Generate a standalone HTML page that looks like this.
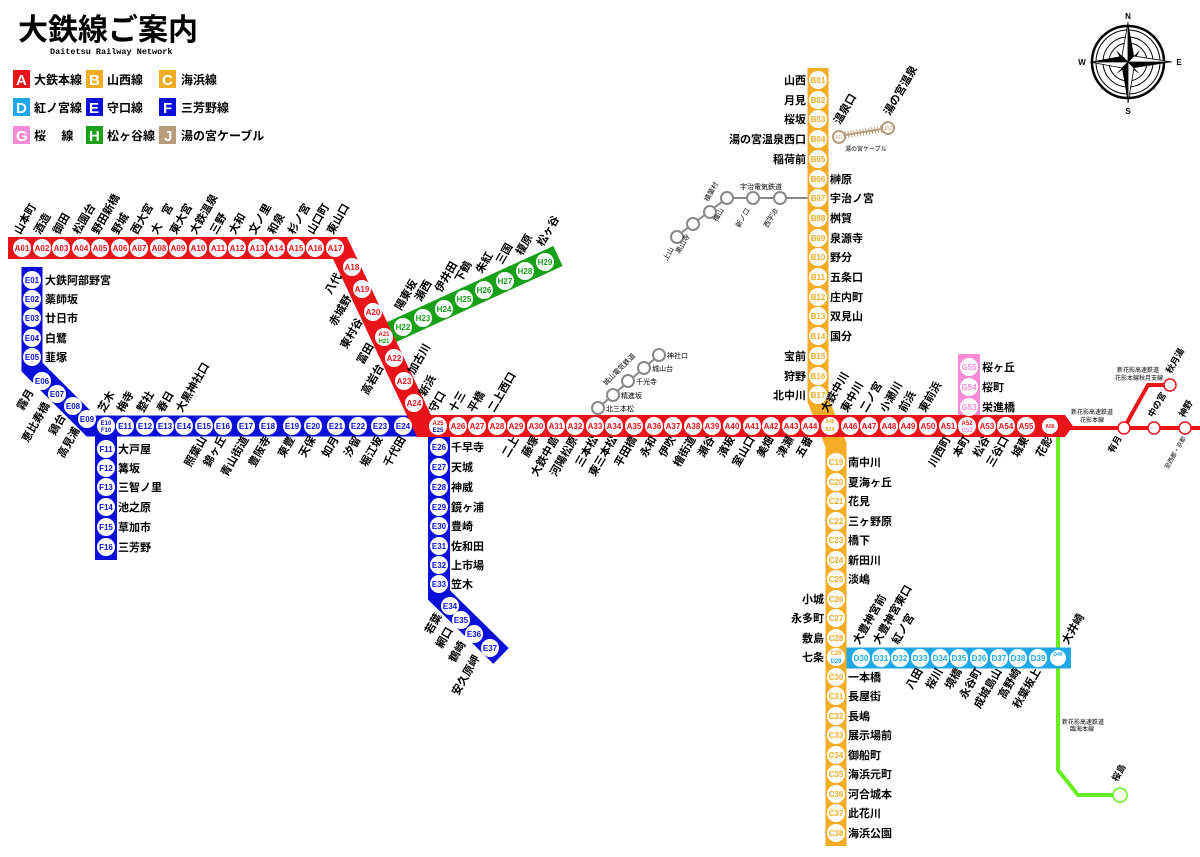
<!DOCTYPE html>
<html><head><meta charset="utf-8">
<style>
html,body{margin:0;padding:0;background:#fff;}
svg{display:block;font-family:"Liberation Sans","Noto Sans CJK JP",sans-serif;}
.c{fill:#fff;}
.t{font-size:8px;font-weight:bold;text-anchor:middle;}
.l{font-size:11px;font-weight:bold;fill:#000;}
.e{text-anchor:end;}
.sm{font-size:7px;fill:#000;}
.r{fill:#e8141a}.b{fill:#0a10d8}.o{fill:#f2ac25}.d{fill:#1ea8e8}.g{fill:#f58ad6}.h{fill:#18a018}
</style></head><body>
<svg width="1200" height="857" viewBox="0 0 1200 857" xmlns="http://www.w3.org/2000/svg">
<!-- title -->
<text x="18" y="40" style="font-size:30px;font-weight:bold">大鉄線ご案内</text>
<text x="50" y="54" style="font-size:8.5px;font-weight:bold;font-family:'Liberation Mono',monospace">Daitetsu Railway Network</text>
<!-- legend -->
<g style="font-size:12px;font-weight:bold">
<rect x="13" y="70" width="17" height="18" fill="#e8141a"/><text x="16" y="85" fill="#fff" style="font-size:15px">A</text><text x="34" y="84">大鉄本線</text>
<rect x="86" y="70" width="17" height="18" fill="#f2ac25"/><text x="89" y="85" fill="#fff" style="font-size:15px">B</text><text x="107" y="84">山西線</text>
<rect x="159" y="70" width="17" height="18" fill="#f2ac25"/><text x="162" y="85" fill="#fff" style="font-size:15px">C</text><text x="181" y="84">海浜線</text>
<rect x="13" y="98" width="17" height="18" fill="#1ea8e8"/><text x="16" y="113" fill="#fff" style="font-size:15px">D</text><text x="34" y="112">紅ノ宮線</text>
<rect x="86" y="98" width="17" height="18" fill="#0a10d8"/><text x="89" y="113" fill="#fff" style="font-size:15px">E</text><text x="107" y="112">守口線</text>
<rect x="159" y="98" width="17" height="18" fill="#0a10d8"/><text x="163" y="113" fill="#fff" style="font-size:15px">F</text><text x="181" y="112">三芳野線</text>
<rect x="13" y="126" width="17" height="18" fill="#f58ad6"/><text x="16" y="141" fill="#fff" style="font-size:15px">G</text><text x="34" y="140">桜　 線</text>
<rect x="86" y="126" width="17" height="18" fill="#18a018"/><text x="89" y="141" fill="#fff" style="font-size:15px">H</text><text x="107" y="140">松ヶ谷線</text>
<rect x="159" y="126" width="17" height="18" fill="#b89b7a"/><text x="164" y="141" fill="#fff" style="font-size:15px">J</text><text x="181" y="140">湯の宮ケーブル</text>
</g>
<!-- compass -->
<g stroke="#000" fill="none">
<line x1="1100" y1="34" x2="1156" y2="90" stroke="#999" stroke-width="0.8"/><line x1="1156" y1="34" x2="1100" y2="90" stroke="#999" stroke-width="0.8"/>
<circle cx="1128" cy="62" r="36" stroke-width="2.5" fill="#fff"/><circle cx="1128" cy="62" r="32" stroke-width="1"/><circle cx="1128" cy="62" r="25" stroke-width="1"/><circle cx="1128" cy="62" r="19" stroke-width="1"/>
</g>
<polygon points="1128,62 1140,50 1133,63 1116,74" fill="#000"/><polygon points="1128,62 1116,50 1123,63 1140,74" fill="#000"/>
<polygon points="1128,22 1134,56 1128,62" fill="#000"/><polygon points="1128,22 1122,56 1128,62" fill="#fff" stroke="#000" stroke-width="0.8"/>
<polygon points="1172,62 1134,68 1128,62" fill="#000"/><polygon points="1172,62 1134,56 1128,62" fill="#fff" stroke="#000" stroke-width="0.8"/>
<polygon points="1128,103 1122,68 1128,62" fill="#000"/><polygon points="1128,103 1134,68 1128,62" fill="#fff" stroke="#000" stroke-width="0.8"/>
<polygon points="1090,62 1122,56 1128,62" fill="#000"/><polygon points="1090,62 1122,68 1128,62" fill="#fff" stroke="#000" stroke-width="0.8"/>
<g style="font-size:8px;font-weight:bold" text-anchor="middle"><text x="1128" y="19">N</text><text x="1128" y="114">S</text><text x="1082" y="65">W</text><text x="1179" y="65">E</text></g>

<!-- grey lines -->
<g stroke="#888" stroke-width="2" fill="none">
<polyline points="808,198 727,198 677,236"/>
<line x1="598" y1="408" x2="659" y2="355"/>
</g>
<g fill="#fff" stroke="#888" stroke-width="2">
<circle cx="780" cy="198" r="6"/><circle cx="753" cy="198" r="6"/><circle cx="727" cy="198" r="6"/><circle cx="710" cy="212" r="6"/><circle cx="693" cy="224" r="6"/><circle cx="677" cy="237" r="6"/>
<circle cx="598" cy="408" r="6"/><circle cx="613" cy="395" r="6"/><circle cx="628" cy="381" r="6"/><circle cx="644" cy="368" r="6"/><circle cx="659" cy="355" r="6"/>
</g>
<g class="sm">
<text x="740" y="189">宇治電気鉄道</text>
<text transform="translate(778,210) rotate(-60)" text-anchor="end">西宇治</text>
<text transform="translate(750,210) rotate(-60)" text-anchor="end">新ノ口</text>
<text transform="translate(724,210) rotate(-60)" text-anchor="end">梅山</text>
<text transform="translate(708,202) rotate(-60)">槙葉村</text>
<text transform="translate(690,236) rotate(-60)" text-anchor="end">黒山寺</text>
<text transform="translate(674,249) rotate(-60)" text-anchor="end">上山</text>
<text x="606" y="411">北三本松</text><text x="621" y="398">精進坂</text><text x="636" y="384">千光寺</text><text x="652" y="371">城山台</text><text x="667" y="358">神社口</text>
<text transform="translate(606,386) rotate(-45)">城山電気鉄道</text>
</g>

<!-- cable J -->
<line x1="845" y1="135" x2="882" y2="129" stroke="#b89b7a" stroke-width="2"/>
<line x1="845" y1="135" x2="882" y2="129" stroke="#b89b7a" stroke-width="7" stroke-dasharray="1 2"/>
<circle cx="839" cy="137" r="6" fill="#fff" stroke="#b89b7a" stroke-width="2"/><circle cx="888" cy="128" r="6" fill="#fff" stroke="#b89b7a" stroke-width="2"/>
<text x="839" y="139" text-anchor="middle" style="font-size:5px;fill:#b89b7a">J01</text><text x="888" y="130" text-anchor="middle" style="font-size:5px;fill:#b89b7a">J02</text>
<text x="845" y="151" class="sm" style="font-size:6px">湯の宮ケーブル</text>
<text class="l" transform="translate(840,125) rotate(-60)">温泉口</text>
<text class="l" transform="translate(890,116) rotate(-60)">湯の宮温泉</text>

<!-- lime line -->
<polyline points="1058,437 1058,770 1078,795 1113,795" fill="none" stroke="#66ee22" stroke-width="4"/>
<circle cx="1120" cy="795" r="7" fill="#fff" stroke="#66ee22" stroke-width="1.5"/>
<text class="l" transform="translate(1117,782) rotate(-60)" style="font-size:9px">桜島</text>
<text class="sm" x="1062" y="724" style="font-size:6px">新花影高速鉄道</text><text class="sm" x="1070" y="731" style="font-size:6px">臨海本線</text>

<!-- right thin red -->
<polyline points="1070,428 1200,428" stroke="#e8141a" stroke-width="4"/>
<polyline points="1124,428 1148,385 1165,385" fill="none" stroke="#e8141a" stroke-width="4"/>
<g fill="#fff" stroke="#e8141a" stroke-width="1.5"><circle cx="1124" cy="428" r="6"/><circle cx="1154" cy="428" r="6"/><circle cx="1185" cy="428" r="6"/><circle cx="1170" cy="385" r="6"/></g>
<g class="sm" style="font-size:6px"><text x="1117" y="372">新花影高速鉄道</text><text x="1115" y="380">花影本線秋月支線</text><text x="1071" y="414">新花影高速鉄道</text><text x="1080" y="422">花影本線</text></g>
<text class="l e" transform="translate(1122,438) rotate(-60)" style="font-size:9px">有月</text>
<text class="l" transform="translate(1153,418) rotate(-60)" style="font-size:9px">中の宮</text>
<text class="l" transform="translate(1184,418) rotate(-60)" style="font-size:9px">神野</text>
<text class="l" transform="translate(1171,374) rotate(-60)" style="font-size:9px">秋月湯</text>
<text class="sm e" transform="translate(1186,438) rotate(-60)" style="font-size:6px">至西都・京都</text>

<!-- bands -->
<polyline points="32,267 32,367 91,426 430,426" fill="none" stroke="#0a10d8" stroke-width="21"/>
<polyline points="106,426 106,560" fill="none" stroke="#0a10d8" stroke-width="22"/>
<polyline points="439,426 439,595 501,656" fill="none" stroke="#0a10d8" stroke-width="22"/>
<line x1="383" y1="336" x2="558" y2="256" stroke="#18a018" stroke-width="22"/>
<line x1="969" y1="354" x2="969" y2="420" stroke="#f58ad6" stroke-width="22"/>
<polyline points="846,658 1071,658" stroke="#1ea8e8" stroke-width="21"/>
<polyline points="818,68 818,400 836,445 836,846" fill="none" stroke="#f2ac25" stroke-width="21"/>
<polyline points="8,248 340,248 424,426 1058,426" fill="none" stroke="#e8141a" stroke-width="22" stroke-linejoin="miter"/>
<polygon points="1057,415 1065,415 1073,426 1065,437 1057,437" fill="#e8141a"/>

<!-- A stations -->
<g>
<g class="c"><circle cx="22" cy="248" r="9"/><circle cx="42" cy="248" r="9"/><circle cx="61" cy="248" r="9"/><circle cx="81" cy="248" r="9"/><circle cx="100" cy="248" r="9"/><circle cx="120" cy="248" r="9"/><circle cx="139" cy="248" r="9"/><circle cx="159" cy="248" r="9"/><circle cx="178" cy="248" r="9"/><circle cx="198" cy="248" r="9"/><circle cx="218" cy="248" r="9"/><circle cx="237" cy="248" r="9"/><circle cx="257" cy="248" r="9"/><circle cx="276" cy="248" r="9"/><circle cx="296" cy="248" r="9"/><circle cx="315" cy="248" r="9"/><circle cx="335" cy="248" r="9"/>
<circle cx="352" cy="267" r="9"/><circle cx="362" cy="289" r="9"/><circle cx="373" cy="312" r="9"/><circle cx="384" cy="337" r="9"/><circle cx="394" cy="358" r="9"/><circle cx="404" cy="381" r="9"/><circle cx="414" cy="403" r="9"/></g>
<g class="t r"><text x="22" y="251">A01</text><text x="42" y="251">A02</text><text x="61" y="251">A03</text><text x="81" y="251">A04</text><text x="100" y="251">A05</text><text x="120" y="251">A06</text><text x="139" y="251">A07</text><text x="159" y="251">A08</text><text x="178" y="251">A09</text><text x="198" y="251">A10</text><text x="218" y="251">A11</text><text x="237" y="251">A12</text><text x="257" y="251">A13</text><text x="276" y="251">A14</text><text x="296" y="251">A15</text><text x="315" y="251">A16</text><text x="335" y="251">A17</text>
<text x="352" y="270">A18</text><text x="362" y="292">A19</text><text x="373" y="315">A20</text><text x="384" y="336" style="font-size:6px">A21</text><text x="404" y="384">A23</text><text x="394" y="361">A22</text><text x="414" y="406">A24</text></g>
<text x="384" y="343" class="t h" style="font-size:6px">H21</text>
</g>
<g class="l">
<text transform="translate(20,235) rotate(-60)">山本町</text><text transform="translate(40,235) rotate(-60)">酒造</text><text transform="translate(59,235) rotate(-60)">御田</text><text transform="translate(79,235) rotate(-60)">松園台</text><text transform="translate(98,235) rotate(-60)">野田新橋</text><text transform="translate(118,235) rotate(-60)">野城</text><text transform="translate(137,235) rotate(-60)">西大宮</text><text transform="translate(157,235) rotate(-60)">大　宮</text><text transform="translate(176,235) rotate(-60)">東大宮</text><text transform="translate(196,235) rotate(-60)">大鉄温泉</text><text transform="translate(216,235) rotate(-60)">三野</text><text transform="translate(235,235) rotate(-60)">大和</text><text transform="translate(255,235) rotate(-60)">文ノ里</text><text transform="translate(274,235) rotate(-60)">和泉</text><text transform="translate(294,235) rotate(-60)">杉ノ宮</text><text transform="translate(313,235) rotate(-60)">山口町</text><text transform="translate(333,235) rotate(-60)">東山口</text>
<text class="e" transform="translate(342,276) rotate(-60)">八代</text><text class="e" transform="translate(352,298) rotate(-60)">赤城野</text><text class="e" transform="translate(363,321) rotate(-60)">東村谷</text><text class="e" transform="translate(374,346) rotate(-60)">冨田</text><text class="e" transform="translate(384,367) rotate(-60)">高岩台</text>
<text transform="translate(414,375) rotate(-60)">加古川</text><text transform="translate(425,397) rotate(-60)">新浜</text>
<text transform="translate(401,311) rotate(-60)">陽東坂</text><text transform="translate(421,302) rotate(-60)">瀬西</text><text transform="translate(441,293) rotate(-60)">伊井田</text><text transform="translate(461,283) rotate(-60)">下鶴</text><text transform="translate(482,274) rotate(-60)">朱紅</text><text transform="translate(502,265) rotate(-60)">三国</text><text transform="translate(522,256) rotate(-60)">榎原</text><text transform="translate(543,247) rotate(-60)">松ヶ谷</text>
</g>
<g class="c"><circle cx="403" cy="327" r="9"/><circle cx="423" cy="318" r="9"/><circle cx="444" cy="309" r="9"/><circle cx="464" cy="299" r="9"/><circle cx="484" cy="290" r="9"/><circle cx="505" cy="281" r="9"/><circle cx="525" cy="271" r="9"/><circle cx="545" cy="262" r="9"/></g>
<g class="t h"><text x="403" y="330">H22</text><text x="423" y="321">H23</text><text x="444" y="312">H24</text><text x="464" y="302">H25</text><text x="484" y="293">H26</text><text x="505" y="284">H27</text><text x="525" y="274">H28</text><text x="545" y="265">H29</text></g>

<!-- A lower -->
<g class="c"><circle cx="438" cy="426" r="9"/><circle cx="458" cy="426" r="9"/><circle cx="477" cy="426" r="9"/><circle cx="497" cy="426" r="9"/><circle cx="516" cy="426" r="9"/><circle cx="536" cy="426" r="9"/><circle cx="556" cy="426" r="9"/><circle cx="575" cy="426" r="9"/><circle cx="595" cy="426" r="9"/><circle cx="614" cy="426" r="9"/><circle cx="634" cy="426" r="9"/><circle cx="654" cy="426" r="9"/><circle cx="673" cy="426" r="9"/><circle cx="693" cy="426" r="9"/><circle cx="712" cy="426" r="9"/><circle cx="732" cy="426" r="9"/><circle cx="752" cy="426" r="9"/><circle cx="771" cy="426" r="9"/><circle cx="791" cy="426" r="9"/><circle cx="810" cy="426" r="9"/><circle cx="830" cy="426" r="9"/><circle cx="850" cy="426" r="9"/><circle cx="869" cy="426" r="9"/><circle cx="889" cy="426" r="9"/><circle cx="908" cy="426" r="9"/><circle cx="928" cy="426" r="9"/><circle cx="948" cy="426" r="9"/><circle cx="967" cy="426" r="9"/><circle cx="987" cy="426" r="9"/><circle cx="1006" cy="426" r="9"/><circle cx="1026" cy="426" r="9"/><circle cx="1050" cy="426" r="8"/></g>
<g class="t r"><text x="438" y="425" style="font-size:6px">A25</text><text x="458" y="429">A26</text><text x="477" y="429">A27</text><text x="497" y="429">A28</text><text x="516" y="429">A29</text><text x="536" y="429">A30</text><text x="556" y="429">A31</text><text x="575" y="429">A32</text><text x="595" y="429">A33</text><text x="614" y="429">A34</text><text x="634" y="429">A35</text><text x="654" y="429">A36</text><text x="673" y="429">A37</text><text x="693" y="429">A38</text><text x="712" y="429">A39</text><text x="732" y="429">A40</text><text x="752" y="429">A41</text><text x="771" y="429">A42</text><text x="791" y="429">A43</text><text x="810" y="429">A44</text><text x="850" y="429">A46</text><text x="869" y="429">A47</text><text x="889" y="429">A48</text><text x="908" y="429">A49</text><text x="928" y="429">A50</text><text x="948" y="429">A51</text><text x="967" y="425" style="font-size:6px">A52</text><text x="987" y="429">A53</text><text x="1006" y="429">A54</text><text x="1026" y="429">A55</text><text x="1050" y="428" style="font-size:5px">A56</text></g>
<text x="438" y="432" class="t b" style="font-size:6px">E25</text>
<text x="830" y="423" class="t o" style="font-size:5px">A45</text><text x="830" y="431" class="t o" style="font-size:5px">B18</text>
<text x="967" y="432" class="t g" style="font-size:6px">G52</text>
<g class="l">
<text transform="translate(435,413) rotate(-60)">守口</text><text transform="translate(455,413) rotate(-60)">十三</text><text transform="translate(474,413) rotate(-60)">平橋</text><text transform="translate(494,413) rotate(-60)">二上西口</text>
<text transform="translate(827,413) rotate(-60)">大鉄中川</text><text transform="translate(847,413) rotate(-60)">東中川</text><text transform="translate(866,413) rotate(-60)">二ノ宮</text><text transform="translate(886,413) rotate(-60)">小瀬川</text><text transform="translate(905,413) rotate(-60)">前浜</text><text transform="translate(925,413) rotate(-60)">東前浜</text>
<text class="e" transform="translate(519,439) rotate(-60)">二上</text><text class="e" transform="translate(539,439) rotate(-60)">藤塚</text><text class="e" transform="translate(559,439) rotate(-60)">大鉄中島</text><text class="e" transform="translate(578,439) rotate(-60)">河陽松原</text><text class="e" transform="translate(598,439) rotate(-60)">三本松</text><text class="e" transform="translate(617,439) rotate(-60)">東三本松</text><text class="e" transform="translate(637,439) rotate(-60)">平田橋</text><text class="e" transform="translate(657,439) rotate(-60)">永和</text><text class="e" transform="translate(676,439) rotate(-60)">伊吹</text><text class="e" transform="translate(696,439) rotate(-60)">檜街道</text><text class="e" transform="translate(715,439) rotate(-60)">瀬谷</text><text class="e" transform="translate(735,439) rotate(-60)">濱坂</text><text class="e" transform="translate(755,439) rotate(-60)">室山口</text><text class="e" transform="translate(774,439) rotate(-60)">美畑</text><text class="e" transform="translate(794,439) rotate(-60)">津瀬</text><text class="e" transform="translate(813,439) rotate(-60)">五番</text>
<text class="e" transform="translate(951,439) rotate(-60)">川西町</text><text class="e" transform="translate(970,439) rotate(-60)">本町</text><text class="e" transform="translate(990,439) rotate(-60)">松谷</text><text class="e" transform="translate(1009,439) rotate(-60)">三谷口</text><text class="e" transform="translate(1029,439) rotate(-60)">城東</text><text class="e" transform="translate(1053,439) rotate(-60)">花影</text>
</g>

<!-- G -->
<g class="c"><circle cx="969" cy="367" r="9"/><circle cx="969" cy="387" r="9"/><circle cx="969" cy="407" r="9"/></g>
<g class="t g"><text x="969" y="370">G55</text><text x="969" y="390">G54</text><text x="969" y="410">G53</text></g>
<g class="l"><text x="982" y="371">桜ヶ丘</text><text x="982" y="391">桜町</text><text x="982" y="411">栄進橋</text></g>

<!-- E stations -->
<g class="c"><circle cx="32" cy="280" r="9"/><circle cx="32" cy="299" r="9"/><circle cx="32" cy="318" r="9"/><circle cx="32" cy="338" r="9"/><circle cx="32" cy="357" r="9"/><circle cx="42" cy="381" r="9"/><circle cx="57" cy="394" r="9"/><circle cx="73" cy="406" r="9"/><circle cx="87" cy="419" r="9"/>
<circle cx="106" cy="426" r="9"/><circle cx="125" cy="426" r="9"/><circle cx="145" cy="426" r="9"/><circle cx="165" cy="426" r="9"/><circle cx="184" cy="426" r="9"/><circle cx="204" cy="426" r="9"/><circle cx="223" cy="426" r="9"/><circle cx="246" cy="426" r="9"/><circle cx="268" cy="426" r="9"/><circle cx="292" cy="426" r="9"/><circle cx="313" cy="426" r="9"/><circle cx="336" cy="426" r="9"/><circle cx="358" cy="426" r="9"/><circle cx="380" cy="426" r="9"/><circle cx="403" cy="426" r="9"/>
<circle cx="106" cy="449" r="9"/><circle cx="106" cy="468" r="9"/><circle cx="106" cy="487" r="9"/><circle cx="106" cy="507" r="9"/><circle cx="106" cy="527" r="9"/><circle cx="106" cy="547" r="9"/>
<circle cx="439" cy="447" r="9"/><circle cx="439" cy="467" r="9"/><circle cx="439" cy="487" r="9"/><circle cx="439" cy="507" r="9"/><circle cx="439" cy="526" r="9"/><circle cx="439" cy="546" r="9"/><circle cx="439" cy="565" r="9"/><circle cx="439" cy="584" r="9"/>
<circle cx="450" cy="606" r="9"/><circle cx="461" cy="620" r="9"/><circle cx="474" cy="634" r="9"/><circle cx="490" cy="648" r="9"/></g>
<g class="t b"><text x="32" y="283">E01</text><text x="32" y="302">E02</text><text x="32" y="321">E03</text><text x="32" y="341">E04</text><text x="32" y="360">E05</text><text x="42" y="384">E06</text><text x="57" y="397">E07</text><text x="73" y="409">E08</text><text x="87" y="422">E09</text>
<text x="106" y="425" style="font-size:6px">E10</text><text x="106" y="432" style="font-size:6px">F10</text><text x="125" y="429">E11</text><text x="145" y="429">E12</text><text x="165" y="429">E13</text><text x="184" y="429">E14</text><text x="204" y="429">E15</text><text x="223" y="429">E16</text><text x="246" y="429">E17</text><text x="268" y="429">E18</text><text x="292" y="429">E19</text><text x="313" y="429">E20</text><text x="336" y="429">E21</text><text x="358" y="429">E22</text><text x="380" y="429">E23</text><text x="403" y="429">E24</text>
<text x="106" y="452">F11</text><text x="106" y="471">F12</text><text x="106" y="490">F13</text><text x="106" y="510">F14</text><text x="106" y="530">F15</text><text x="106" y="550">F16</text>
<text x="439" y="450">E26</text><text x="439" y="470">E27</text><text x="439" y="490">E28</text><text x="439" y="510">E29</text><text x="439" y="529">E30</text><text x="439" y="549">E31</text><text x="439" y="568">E32</text><text x="439" y="587">E33</text>
<text x="450" y="609">E34</text><text x="461" y="623">E35</text><text x="474" y="637">E36</text><text x="490" y="651">E37</text></g>
<g class="l">
<text x="45" y="284">大鉄阿部野宮</text><text x="45" y="303">薬師坂</text><text x="45" y="322">廿日市</text><text x="45" y="342">白鷺</text><text x="45" y="361">韮塚</text>
<text class="e" transform="translate(34,392) rotate(-60)">霧月</text><text class="e" transform="translate(50,405) rotate(-60)">恵比寿橋</text><text class="e" transform="translate(66,417) rotate(-60)">鶏台</text><text class="e" transform="translate(80,430) rotate(-60)">高見浦</text>
<text transform="translate(104,413) rotate(-60)">芝木</text><text transform="translate(123,413) rotate(-60)">梅寺</text><text transform="translate(143,413) rotate(-60)">整社</text><text transform="translate(163,413) rotate(-60)">春日</text><text transform="translate(182,413) rotate(-60)">大黒神社口</text>
<text class="e" transform="translate(207,439) rotate(-60)">照葉山</text><text class="e" transform="translate(226,439) rotate(-60)">錦ヶ丘</text><text class="e" transform="translate(249,439) rotate(-60)">青山街道</text><text class="e" transform="translate(271,439) rotate(-60)">豊阪寺</text><text class="e" transform="translate(295,439) rotate(-60)">東豊</text><text class="e" transform="translate(316,439) rotate(-60)">天保</text><text class="e" transform="translate(339,439) rotate(-60)">如月</text><text class="e" transform="translate(361,439) rotate(-60)">汐留</text><text class="e" transform="translate(383,439) rotate(-60)">堀江坂</text><text class="e" transform="translate(406,439) rotate(-60)">千代田</text>
<text x="118" y="453">大戸屋</text><text x="118" y="472">篝坂</text><text x="118" y="491">三智ノ里</text><text x="118" y="511">池之原</text><text x="118" y="531">草加市</text><text x="118" y="551">三芳野</text>
<text x="451" y="451">千早寺</text><text x="451" y="471">天城</text><text x="451" y="491">神威</text><text x="451" y="511">鏡ヶ浦</text><text x="451" y="530">豊崎</text><text x="451" y="550">佐和田</text><text x="451" y="569">上市場</text><text x="451" y="588">笠木</text>
<text class="e" transform="translate(442,616) rotate(-60)">若葉</text><text class="e" transform="translate(453,630) rotate(-60)">網口</text><text class="e" transform="translate(466,644) rotate(-60)">鶴崎</text><text class="e" transform="translate(480,658) rotate(-60)">安久原岬</text>
</g>

<!-- B / C -->
<g class="c"><circle cx="818" cy="80" r="9"/><circle cx="818" cy="100" r="9"/><circle cx="818" cy="119" r="9"/><circle cx="818" cy="139" r="9"/><circle cx="818" cy="159" r="9"/><circle cx="818" cy="179" r="9"/><circle cx="818" cy="198" r="9"/><circle cx="818" cy="218" r="9"/><circle cx="818" cy="238" r="9"/><circle cx="818" cy="257" r="9"/><circle cx="818" cy="277" r="9"/><circle cx="818" cy="297" r="9"/><circle cx="818" cy="316" r="9"/><circle cx="818" cy="336" r="9"/><circle cx="818" cy="356" r="9"/><circle cx="818" cy="376" r="9"/><circle cx="818" cy="395" r="9"/>
<circle cx="836" cy="462" r="9"/><circle cx="836" cy="482" r="9"/><circle cx="836" cy="501" r="9"/><circle cx="836" cy="521" r="9"/><circle cx="836" cy="540" r="9"/><circle cx="836" cy="560" r="9"/><circle cx="836" cy="579" r="9"/><circle cx="836" cy="599" r="9"/><circle cx="836" cy="618" r="9"/><circle cx="836" cy="638" r="9"/><circle cx="836" cy="657" r="9"/><circle cx="836" cy="677" r="9"/><circle cx="836" cy="696" r="9"/><circle cx="836" cy="716" r="9"/><circle cx="836" cy="735" r="9"/><circle cx="836" cy="755" r="9"/><circle cx="836" cy="774" r="9"/><circle cx="836" cy="794" r="9"/><circle cx="836" cy="813" r="9"/><circle cx="836" cy="833" r="9"/></g>
<g class="t o"><text x="818" y="83">B01</text><text x="818" y="103">B02</text><text x="818" y="122">B03</text><text x="818" y="142">B04</text><text x="818" y="162">B05</text><text x="818" y="182">B06</text><text x="818" y="201">B07</text><text x="818" y="221">B08</text><text x="818" y="241">B09</text><text x="818" y="260">B10</text><text x="818" y="280">B11</text><text x="818" y="300">B12</text><text x="818" y="319">B13</text><text x="818" y="339">B14</text><text x="818" y="359">B15</text><text x="818" y="379">B16</text><text x="818" y="398">B17</text>
<text x="836" y="465">C19</text><text x="836" y="485">C20</text><text x="836" y="504">C21</text><text x="836" y="524">C22</text><text x="836" y="543">C23</text><text x="836" y="563">C24</text><text x="836" y="582">C25</text><text x="836" y="602">C26</text><text x="836" y="621">C27</text><text x="836" y="641">C28</text><text x="836" y="655" style="font-size:6px">C29</text><text x="836" y="680">C30</text><text x="836" y="699">C31</text><text x="836" y="719">C32</text><text x="836" y="738">C33</text><text x="836" y="758">C34</text><text x="836" y="777">C35</text><text x="836" y="797">C36</text><text x="836" y="816">C37</text><text x="836" y="836">C38</text></g>
<text x="836" y="663" class="t d" style="font-size:6px">D29</text>
<g class="l">
<text class="e" x="806" y="84">山西</text><text class="e" x="806" y="104">月見</text><text class="e" x="806" y="123">桜坂</text><text class="e" x="806" y="143">湯の宮温泉西口</text><text class="e" x="806" y="163">稲荷前</text>
<text x="830" y="183">榊原</text><text x="830" y="202">宇治ノ宮</text><text x="830" y="222">桝賀</text><text x="830" y="242">泉源寺</text><text x="830" y="261">野分</text><text x="830" y="281">五条口</text><text x="830" y="301">庄内町</text><text x="830" y="320">双見山</text><text x="830" y="340">国分</text>
<text class="e" x="806" y="360">宝前</text><text class="e" x="806" y="380">狩野</text><text class="e" x="806" y="399">北中川</text>
<text x="848" y="466">南中川</text><text x="848" y="486">夏海ヶ丘</text><text x="848" y="505">花見</text><text x="848" y="525">三ヶ野原</text><text x="848" y="544">橋下</text><text x="848" y="564">新田川</text><text x="848" y="583">淡嶋</text>
<text class="e" x="824" y="603">小城</text><text class="e" x="824" y="622">永多町</text><text class="e" x="824" y="642">敷島</text><text class="e" x="824" y="661">七条</text>
<text x="848" y="681">一本橋</text><text x="848" y="700">長屋街</text><text x="848" y="720">長嶋</text><text x="848" y="739">展示場前</text><text x="848" y="759">御船町</text><text x="848" y="778">海浜元町</text><text x="848" y="798">河合城本</text><text x="848" y="817">此花川</text><text x="848" y="837">海浜公園</text>
</g>

<!-- D -->
<g class="c"><circle cx="861" cy="658" r="9"/><circle cx="881" cy="658" r="9"/><circle cx="900" cy="658" r="9"/><circle cx="920" cy="658" r="9"/><circle cx="940" cy="658" r="9"/><circle cx="959" cy="658" r="9"/><circle cx="979" cy="658" r="9"/><circle cx="999" cy="658" r="9"/><circle cx="1018" cy="658" r="9"/><circle cx="1038" cy="658" r="9"/><circle cx="1058" cy="658" r="8"/></g>
<g class="t d"><text x="861" y="661">D30</text><text x="881" y="661">D31</text><text x="900" y="661">D32</text><text x="920" y="661">D33</text><text x="940" y="661">D34</text><text x="959" y="661">D35</text><text x="979" y="661">D36</text><text x="999" y="661">D37</text><text x="1018" y="661">D38</text><text x="1038" y="661">D39</text><text x="1058" y="656" style="font-size:5px">D40</text></g>
<g class="l">
<text transform="translate(859,645) rotate(-60)">大豊神宮前</text><text transform="translate(879,645) rotate(-60)">大豊神宮東口</text><text transform="translate(898,645) rotate(-60)">紅ノ宮</text>
<text class="e" transform="translate(923,671) rotate(-60)">八田</text><text class="e" transform="translate(943,671) rotate(-60)">桜川</text><text class="e" transform="translate(962,671) rotate(-60)">境橋</text><text class="e" transform="translate(982,671) rotate(-60)">永谷町</text><text class="e" transform="translate(1002,671) rotate(-60)">成城島山</text><text class="e" transform="translate(1021,671) rotate(-60)">高野崎</text><text class="e" transform="translate(1041,671) rotate(-60)">秋葉坂上</text>
<text transform="translate(1068,645) rotate(-60)">大井崎</text>
</g>
</svg>
</body></html>
